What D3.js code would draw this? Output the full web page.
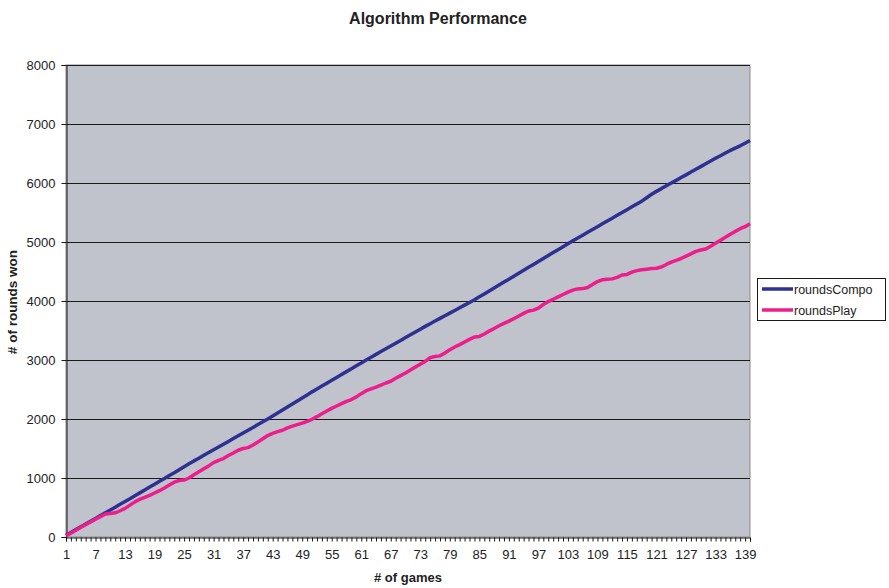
<!DOCTYPE html>
<html><head><meta charset="utf-8">
<script src="https://cdn.jsdelivr.net/npm/d3@7"></script>
<style>body{margin:0;background:#fff;} text{font-family:"Liberation Sans",Arial,sans-serif;}</style>
</head><body>
<svg id="c" width="889" height="588"></svg>
<script>
const games = d3.range(1, 141);
const roundsCompo = [30,75,125,172,220,268,315,362,410,457,505,556,603,650,700,748,798,846,895,944,
992,1043,1090,1140,1190,1240,1290,1336,1385,1432,1478,1525,1573,1620,1668,1715,1762,1810,1856,1905,
1952,2000,2050,2102,2153,2205,2255,2305,2357,2408,2460,2508,2558,2607,2655,2705,2755,2803,2852,2902,
2950,3000,3048,3095,3143,3190,3238,3285,3332,3380,3428,3475,3522,3570,3615,3660,3705,3750,3795,3840,
3886,3930,3975,4020,4070,4120,4170,4220,4270,4320,4370,4420,4470,4520,4570,4620,4670,4720,4770,4820,
4870,4920,4970,5020,5068,5116,5164,5212,5260,5308,5356,5404,5452,5500,5548,5596,5644,5692,5750,5810,
5858,5905,5955,6000,6045,6092,6138,6185,6232,6278,6325,6372,6418,6462,6508,6552,6590,6630,6675,6720];
const roundsPlay = [20,65,115,165,210,255,300,345,390,400,410,445,485,540,595,640,670,705,745,785,
830,880,930,958,965,1000,1055,1105,1155,1205,1260,1300,1330,1380,1425,1470,1500,1515,1560,1610,
1665,1720,1755,1785,1810,1850,1880,1905,1930,1960,1995,2040,2090,2135,2180,2220,2260,2300,2330,2375,
2430,2480,2510,2540,2575,2610,2640,2690,2735,2780,2830,2880,2930,2975,3040,3060,3070,3120,3175,3220,
3260,3305,3350,3390,3400,3440,3490,3535,3580,3620,3660,3700,3745,3790,3830,3845,3880,3940,3990,4030,
4070,4110,4150,4185,4205,4210,4230,4280,4330,4360,4370,4375,4400,4440,4450,4490,4515,4530,4540,4550,
4555,4575,4620,4660,4690,4720,4760,4800,4840,4865,4880,4930,4980,5030,5080,5130,5180,5225,5260,5310];
const yTicks = [0,1000,2000,3000,4000,5000,6000,7000,8000];
const xTickLabels = d3.range(1, 141, 6);
const seriesNames = ["roundsCompo","roundsPlay"];
const seriesColors = ["#2E3192","#EC1E8C"];

const svg = d3.select("#c");
const L=66, R=750, T=65, B=537;
const x = d3.scaleLinear().domain([1,140]).range([L,R]);
const y = d3.scaleLinear().domain([0,8000]).range([B,T]);

svg.append("rect").attr("x",L).attr("y",T).attr("width",R-L).attr("height",B-T)
  .attr("fill","#C0C3CB").attr("stroke","#8a8a8a").attr("stroke-width",1);

// gridlines
svg.append("g").selectAll("line").data(yTicks.filter(d=>d>0)).join("line")
  .attr("x1",L).attr("x2",R).attr("y1",d=>Math.round(y(d))+0.5).attr("y2",d=>Math.round(y(d))+0.5)
  .attr("stroke","#1a1a1a").attr("stroke-width",1);

// y axis
const yAxis = svg.append("g").attr("transform",`translate(${L+0.5},0)`)
  .call(d3.axisLeft(y).tickValues(yTicks).tickSize(5).tickPadding(6).tickFormat(d3.format("d")));
yAxis.select(".domain").attr("stroke","#1a1a1a");
yAxis.selectAll("line").attr("stroke","#1a1a1a");
yAxis.selectAll("text").attr("font-size",13).attr("fill","#222").style("font-family","'Liberation Sans',Arial,sans-serif");

// x axis
const xAxis = svg.append("g").attr("transform",`translate(0,${B+0.5})`)
  .call(d3.axisBottom(x).tickValues(games).tickSize(4).tickPadding(6).tickFormat(d=>xTickLabels.includes(d)?d:""));
xAxis.select(".domain").attr("stroke","#1a1a1a");
xAxis.selectAll("line").attr("stroke","#1a1a1a");
xAxis.selectAll("text").attr("font-size",13).attr("fill","#222").attr("dy","0.85em").style("font-family","'Liberation Sans',Arial,sans-serif");

// lines
const line = d3.line().x((d,i)=>x(games[i])).y(d=>y(d));
[roundsCompo, roundsPlay].forEach((s,k)=>{
  svg.append("path").datum(s).attr("d",line).attr("fill","none")
    .attr("stroke",seriesColors[k]).attr("stroke-width",3.5).attr("stroke-linejoin","round");
});

// titles
svg.append("text").attr("x",438).attr("y",24).attr("text-anchor","middle")
  .attr("font-size",16).attr("font-weight","bold").attr("fill","#222").text("Algorithm Performance");
svg.append("text").attr("x",408).attr("y",582).attr("text-anchor","middle")
  .attr("font-size",13).attr("font-weight","bold").attr("fill","#222").text("# of games");
svg.append("text").attr("transform","translate(17,302) rotate(-90)").attr("text-anchor","middle")
  .attr("font-size",13.5).attr("font-weight","bold").attr("fill","#222").text("# of rounds won");

// legend
const lg = svg.append("g");
lg.append("rect").attr("x",757.5).attr("y",278.5).attr("width",128).attr("height",42)
  .attr("fill","#fff").attr("stroke","#1a1a1a");
seriesNames.forEach((n,k)=>{
  const yy = 289 + k*21;
  lg.append("line").attr("x1",762).attr("x2",793).attr("y1",yy).attr("y2",yy)
    .attr("stroke",seriesColors[k]).attr("stroke-width",3.5);
  lg.append("text").attr("x",794).attr("y",yy+5).attr("font-size",12.5).attr("fill","#222").text(n);
});
</script>
</body></html>
